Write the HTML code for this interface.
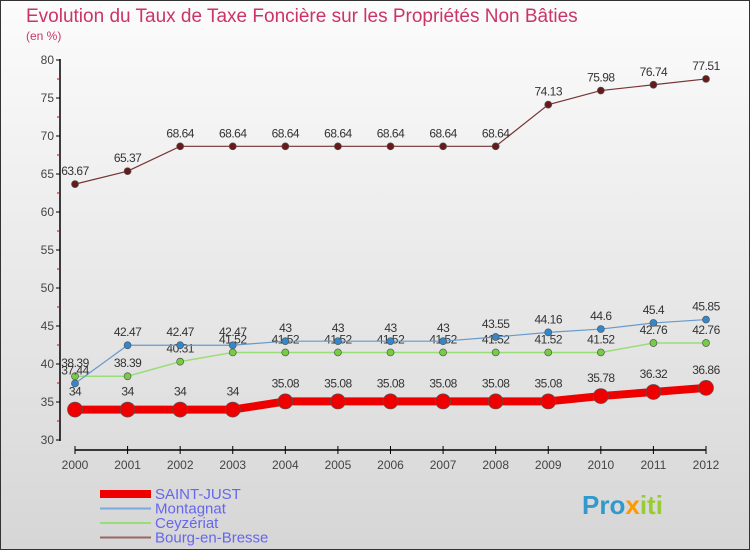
<!DOCTYPE html>
<html><head><meta charset="utf-8"><style>
body{margin:0;}
#wrap{position:relative;width:750px;height:550px;overflow:hidden;font-family:"Liberation Sans",sans-serif;}
</style></head><body>
<div id="wrap">
<svg id="chart" width="750" height="550">
<defs><linearGradient id="bg" x1="0" y1="0" x2="0" y2="1"><stop offset="0" stop-color="#fcfcfc"/><stop offset="1" stop-color="#d6d6d6"/></linearGradient></defs>
<rect x="0.5" y="0.5" width="749" height="549" fill="url(#bg)" stroke="#333"/>
<text x="26" y="22" font-size="19" fill="#cc3366">Evolution du Taux de Taxe Foncière sur les Propriétés Non Bâties</text>
<text x="26" y="40" font-size="12" fill="#cc3366">(en %)</text>
<g id="axes"></g><g id="series"></g><g id="legend"></g>
<text x="582" y="514" font-size="26" font-weight="bold" fill="#3399cc">Pro<tspan fill="#ff9900">x</tspan><tspan fill="#99cc33">iti</tspan></text>
</svg>
</div>
<script>
const years=[2000,2001,2002,2003,2004,2005,2006,2007,2008,2009,2010,2011,2012];
const saintJust=[34,34,34,34,35.08,35.08,35.08,35.08,35.08,35.08,35.78,36.32,36.86];
const montagnat=[37.44,42.47,42.47,42.47,43,43,43,43,43.55,44.16,44.6,45.4,45.85];
const ceyzeriat=[38.39,38.39,40.31,41.52,41.52,41.52,41.52,41.52,41.52,41.52,41.52,42.76,42.76];
const bourg=[63.67,65.37,68.64,68.64,68.64,68.64,68.64,68.64,68.64,74.13,75.98,76.74,77.51];
const yTicks=[30,35,40,45,50,55,60,65,70,75,80];
const NS="http://www.w3.org/2000/svg";
function X(i){return 75+i*(706-75)/(years.length-1);}
function Y(v){return 440-(v-30)*(380/50);}
function mk(tag,attrs,parent,text){const e=document.createElementNS(NS,tag);for(const k in attrs)e.setAttribute(k,attrs[k]);if(text!==undefined)e.textContent=text;parent.appendChild(e);return e;}
const ax=document.getElementById('axes');
let l=mk('line',{x1:60,y1:59,x2:60,y2:441,stroke:'#000','stroke-width':1.5},ax);


yTicks.forEach(v=>{
 let t=mk('line',{x1:56,y1:Y(v),x2:60,y2:Y(v),stroke:'#000'},ax);
 
 
 if(v<80){let m=mk('line',{x1:57,y1:Y(v+2.5),x2:60,y2:Y(v+2.5),stroke:'#d00'},ax);
 
 }
 let tx=mk('text',{x:54,y:Y(v)+4,'font-size':12,fill:'#444','text-anchor':'end'},ax,v);
 
 
});
let xa=mk('line',{x1:75,y1:450,x2:706,y2:450,stroke:'#000','stroke-width':1.5},ax);


years.forEach((y,i)=>{
 let t=mk('line',{x1:X(i),y1:446,x2:X(i),y2:454,stroke:'#000'},ax);
 
 
 let tx=mk('text',{x:X(i),y:469,'font-size':12,fill:'#444','text-anchor':'middle'},ax,y);
 
 
});
const sg=document.getElementById('series');
function series(data,name,color,dot,w,r,lblOff){
 const g=mk('g',{},sg);
 
 
 let p=mk('polyline',{points:data.map((v,i)=>X(i)+','+Y(v)).join(' '),fill:'none',stroke:color,'stroke-width':w},g);
 
 
 data.forEach((v,i)=>{
  let c=mk('circle',{cx:X(i),cy:Y(v),r:r,fill:dot,stroke:'#555','stroke-width':0.7},g);
  
  
  let t=mk('text',{x:X(i),y:Y(v)-lblOff,'font-size':12,fill:'#333','text-anchor':'middle','letter-spacing':'-0.5'},g,String(v));
  
  
 });
}
series(bourg,'bourg-en-bresse','#773333','#661a1a',1.2,3.5,9);
series(ceyzeriat,'ceyzeriat','#99dd77','#77cc44',1.5,3.5,9);
series(montagnat,'montagnat','#6699cc','#3388cc',1.2,3.5,9);
series(saintJust,'saint-just','#ee0000','#ee0000',8,7.5,14);
const lg=document.getElementById('legend');
const leg=[['SAINT-JUST','#ee0000',8],['Montagnat','#77aadd',2],['Ceyzériat','#99dd77',2],['Bourg-en-Bresse','#996666',2]];
leg.forEach((e,i)=>{
 const y=494+i*14.5;
 let g=mk('g',{},lg);
 
 
 mk('line',{x1:100,y1:y,x2:151,y2:y,stroke:e[1],'stroke-width':e[2]},g);
 mk('text',{x:155,y:y+5,'font-size':15,fill:'#6666ee'},g,e[0]);
});
</script>
</body></html>
